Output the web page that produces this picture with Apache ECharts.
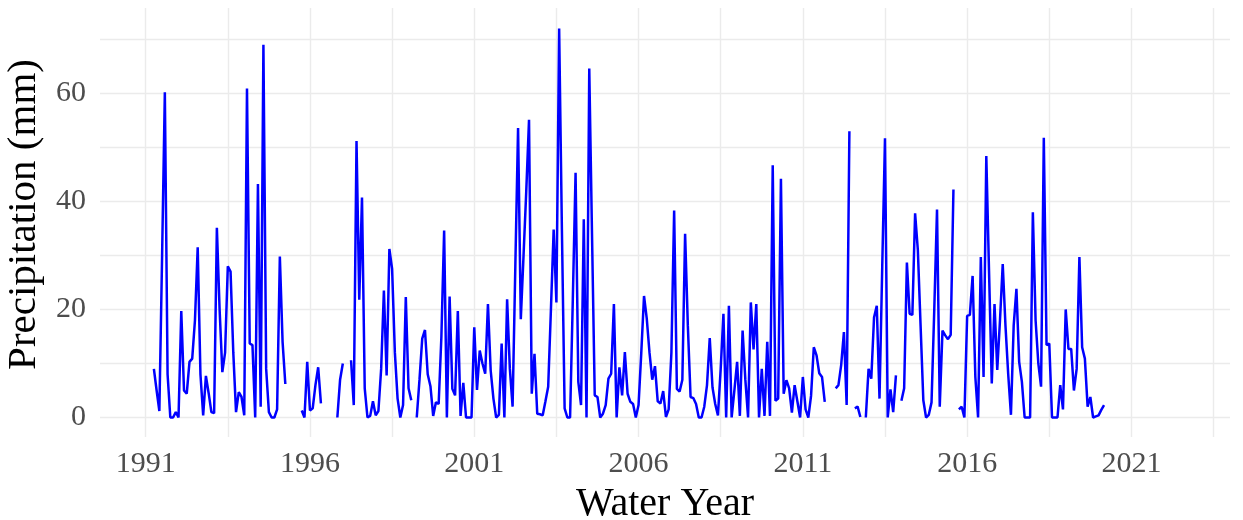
<!DOCTYPE html>
<html>
<head>
<meta charset="utf-8">
<script src="https://cdn.jsdelivr.net/npm/echarts@6/dist/echarts.min.js"></script>
<style>
  html, body { margin: 0; padding: 0; background: #ffffff; }
  #chart { width: 1243px; height: 520px; }
</style>
</head>
<body>
<div id="chart"></div>
<script>
// Monthly precipitation series (mm); null marks months with no record.
const startYear = 1991.25;          // first month of the record, as a decimal year
const monthsPerYear = 12;
const precipitation = [
  9, 5, 1.2, 30, 60.2, 8, 0, 0, 1, 0,
  19.7, 5, 4.4, 10.3, 10.9, 18, 31.5, 8, 0.4, 7.7,
  4.5, 1, 0.8, 35.1, 20, 8.4, 12, 28, 27, 12,
  1, 4.7, 3.8, 0.4, 60.9, 13.7, 13.4, 0, 43.2, 2,
  69, 9, 1, 0, 0, 1.5, 29.8, 14, 6.2, null,
  null, null, null, null, 1.3, 0, 10.3, 1.3, 1.7, 6,
  9.3, 2.6, null, null, null, null, null, 0, 7, 10,
  null, null, 10.6, 2.3, 51.2, 21.8, 40.7, 5.4, 0, 0.3,
  3, 0.4, 1.2, 9, 23.5, 7.8, 31.2, 27.5, 12.1, 3.5,
  0, 2.3, 22.3, 5.4, 3.2, null, 0, 7, 14.6, 16.2,
  8, 5.8, 0.3, 2.8, 2.5, 15, 34.6, 0, 22.4, 5.3,
  4.1, 19.7, 0.3, 6.4, 0, 0, 0, 16.7, 5.1, 12.4,
  10, 8.1, 21, 8.7, 3.5, 0, 0.5, 13.7, 0, 21.9,
  9, 2, 28, 53.6, 18.2, 30, 42, 55.1, 4.4, 11.8,
  0.7, 0.6, 0.4, 3, 5.7, 20, 34.8, 21.3, 72, 35,
  1.7, 0, 0, 22, 45.3, 6.6, 2.3, 36.7, 0, 64.6,
  34, 4.1, 3.8, 0, 0.7, 2.3, 7.2, 8.1, 21, 0,
  9.3, 4.1, 12.1, 4.4, 2.9, 2.5, 0, 2.3, 12, 22.5,
  18.3, 12, 7, 9.5, 3, 2.6, 4.9, 0.1, 1.5, 12,
  38.3, 5.3, 4.8, 7, 34, 17, 3.8, 3.6, 2.5, 0,
  0, 2, 6, 14.7, 5.6, 2.5, 0.4, 9, 19.2, 0,
  20.7, 0, 5, 10.3, 0.3, 16.1, 7, 0, 21.3, 12.6,
  21, 0, 9, 0.3, 14, 0.3, 46.7, 3.1, 3.5, 44.2,
  4.4, 6.9, 5.4, 0.9, 6, 3, 0, 7.5, 1.5, 0,
  4, 13, 11.5, 8.2, 7.5, 2.9, null, null, null, 5.4,
  6, 9.7, 15.8, 2.3, 53, null, 1.7, 2, 0.1, null,
  0, 9, 7.2, 18.5, 20.7, 3.5, 28, 51.7, 0, 5.2,
  1, 7.8, null, 3.1, 5.4, 28.7, 19.2, 19, 37.8, 31,
  17, 3.2, 0, 0.5, 2.8, 20, 38.5, 2, 16.1, 15.2,
  14.5, 15.3, 42.2, null, 1.5, 2, 0, 18.8, 19, 26.2,
  7.5, 0, 29.7, 7.5, 48.4, 27, 6.3, 21, 8.8, 18,
  28.4, 17, 8, 0.5, 17, 23.8, 10.3, 6.6, 0, 0,
  0, 38, 18, 10, 5.7, 51.8, 13.4, 13.7, 0, 0,
  0, 6, 1.5, 20, 12.7, 12.7, 5, 9, 29.7, 13,
  10.9, 2, 3.8, 0, 0.2, 0.4, 1.4, 2.3
];

// Axis ticks and gridlines
const xLabelYears = [1991, 1996, 2001, 2006, 2011, 2016, 2021];
const xGridYears = [1991, 1993.5, 1996, 1998.5, 2001, 2003.5, 2006, 2008.5,
                    2011, 2013.5, 2016, 2018.5, 2021, 2023.5];
const yLabelValues = [0, 20, 40, 60];
const yGridValues = [0, 10, 20, 30, 40, 50, 60, 70];
const xRange = [1989.61, 2024.0];
const yRange = [-3.61, 75.8];

const seriesData = precipitation.map((v, i) => [startYear + i / monthsPerYear, v]);

const gridColor = '#EBEBEB';
const serif = '"Liberation Serif", "DejaVu Serif", serif';

const chart = echarts.init(document.getElementById('chart'), null, { renderer: 'canvas' });
chart.setOption({
  animation: false,
  backgroundColor: '#ffffff',
  grid: { left: 100, right: 13, top: 8, bottom: 83, containLabel: false, outerBoundsMode: 'none' },
  xAxis: {
    type: 'value',
    min: xRange[0],
    max: xRange[1],
    name: 'Water Year',
    nameLocation: 'middle',
    nameGap: 47,
    nameTextStyle: { fontFamily: serif, fontSize: 40, color: '#000000' },
    axisLine: { show: false },
    axisTick: { show: false, customValues: xGridYears },
    axisLabel: {
      customValues: xLabelYears,
      fontFamily: serif, fontSize: 30, color: '#4D4D4D', margin: 12,
      formatter: v => String(Math.round(v))
    },
    splitLine: { show: true, lineStyle: { color: gridColor, width: 1.4 } }
  },
  yAxis: {
    type: 'value',
    min: yRange[0],
    max: yRange[1],
    name: 'Precipitation (mm)',
    nameLocation: 'middle',
    nameRotate: 90,
    nameGap: 52,
    nameTextStyle: { fontFamily: serif, fontSize: 41, color: '#000000', padding: [0, 0, 0, 16] },
    axisLine: { show: false },
    axisTick: { show: false, customValues: yGridValues },
    axisLabel: {
      customValues: yLabelValues,
      fontFamily: serif, fontSize: 30, color: '#4D4D4D', margin: 14
    },
    splitLine: { show: true, lineStyle: { color: gridColor, width: 1.4 } }
  },
  series: [{
    type: 'line',
    data: seriesData,
    showSymbol: false,
    connectNulls: false,
    lineStyle: { color: '#0000FF', width: 2.5 },
    itemStyle: { color: '#0000FF' }
  }]
});
</script>
</body>
</html>
